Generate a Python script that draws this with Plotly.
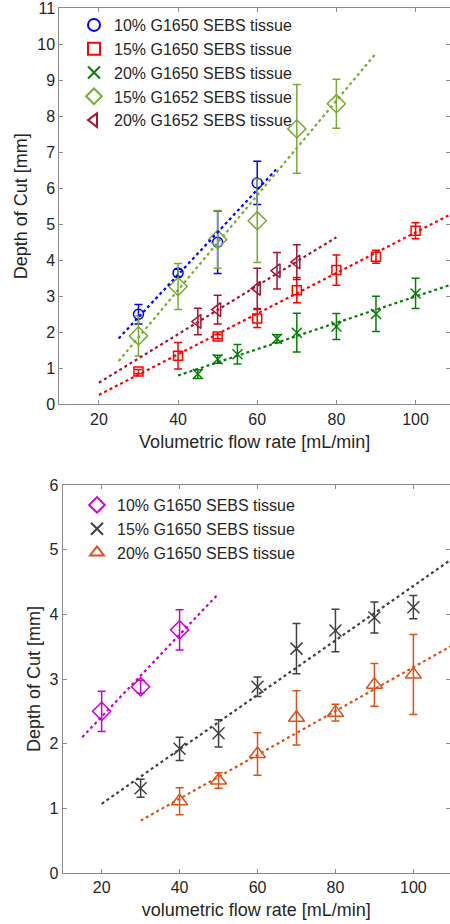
import plotly.graph_objects as go

# ---------------- top panel data ----------------
x_a1 = [30, 40, 50, 60]
y_a1 = [2.50, 3.65, 4.50, 6.15]
e_a1 = [0.27, 0.10, 0.87, 0.60]

x_a2 = [30, 40, 50, 60, 70, 80, 90, 100]
y_a2 = [0.91, 1.35, 1.88, 2.38, 3.17, 3.73, 4.10, 4.82]
e_a2 = [0.06, 0.37, 0.06, 0.25, 0.35, 0.42, 0.18, 0.22]

x_a3 = [45, 50, 55, 65, 70, 80, 90, 100]
y_a3 = [0.84, 1.25, 1.39, 1.82, 1.99, 2.16, 2.51, 3.08]
e_a3 = [0.12, 0.11, 0.27, 0.11, 0.54, 0.36, 0.49, 0.42]

x_a4 = [30, 40, 50, 60, 70, 80]
y_a4 = [1.90, 3.27, 4.58, 5.10, 7.65, 8.35]
e_a4 = [0.56, 0.64, 0.80, 1.16, 1.23, 0.68]

x_a5 = [45, 50, 60, 65, 70]
y_a5 = [2.30, 2.63, 3.22, 3.71, 3.95]
e_a5 = [0.37, 0.40, 0.56, 0.51, 0.48]

# fitted trend lines (end points)
fit_a1_x = [25, 65];  fit_a1_y = [1.83, 6.55]
fit_a2_x = [20, 110]; fit_a2_y = [0.26, 5.34]
fit_a3_x = [40, 110]; fit_a3_y = [0.80, 3.36]
fit_a4_x = [25, 90];  fit_a4_y = [1.20, 9.75]
fit_a5_x = [20, 80];  fit_a5_y = [0.60, 4.64]

names_a = ["10% G1650 SEBS tissue", "15% G1650 SEBS tissue", "20% G1650 SEBS tissue",
           "15% G1652 SEBS tissue", "20% G1652 SEBS tissue"]

# ---------------- bottom panel data ----------------
x_b1 = [20, 30, 40]
y_b1 = [2.50, 2.88, 3.76]
e_b1 = [0.31, 0.10, 0.31]

x_b2 = [30, 40, 50, 60, 70, 80, 90, 100]
y_b2 = [1.31, 1.92, 2.16, 2.88, 3.47, 3.75, 3.95, 4.11]
e_b2 = [0.14, 0.18, 0.21, 0.15, 0.39, 0.33, 0.24, 0.18]

x_b3 = [40, 50, 60, 70, 80, 90, 100]
y_b3 = [1.11, 1.43, 1.84, 2.40, 2.48, 2.91, 3.07]
e_b3 = [0.21, 0.12, 0.33, 0.42, 0.13, 0.33, 0.62]

fit_b1_x = [15, 50];  fit_b1_y = [2.10, 4.32]
fit_b2_x = [20, 110]; fit_b2_y = [1.07, 4.86]
fit_b3_x = [30, 110]; fit_b3_y = [0.81, 3.52]

names_b = ["10% G1650 SEBS tissue", "15% G1650 SEBS tissue", "20% G1650 SEBS tissue"]

x_ticks = [20, 40, 60, 80, 100]

FONT = "Liberation Sans, Arial, Helvetica, sans-serif"
TXT = "#262626"
AX = "#8a8a8a"

fig = go.Figure()


def add_series(x, y, e, name, color, symbol, size, xa, ya, legend):
    fig.add_trace(go.Scatter(
        x=x, y=y, mode="markers", name=name, xaxis=xa, yaxis=ya, legend=legend,
        marker=dict(symbol=symbol, size=size, color=color,
                    line=dict(color=color, width=1.5)),
        error_y=dict(type="data", array=e, visible=True, color=color,
                     thickness=1.5, width=4),
        hoverinfo="skip"))


def add_fit(x, y, color, xa, ya):
    fig.add_trace(go.Scatter(
        x=x, y=y, mode="lines", showlegend=False, xaxis=xa, yaxis=ya,
        line=dict(color=color, width=2.2, dash="dot"), hoverinfo="skip"))


c_a = ["#0000FF", "#FF0000", "#008000", "#77AC30", "#A2142F"]
add_series(x_a1, y_a1, e_a1, names_a[0], c_a[0], "circle-open", 10, "x", "y", "legend")
add_series(x_a2, y_a2, e_a2, names_a[1], c_a[1], "square-open", 9, "x", "y", "legend")
add_series(x_a3, y_a3, e_a3, names_a[2], c_a[2], "x-thin-open", 10, "x", "y", "legend")
add_series(x_a4, y_a4, e_a4, names_a[3], c_a[3], "diamond-open", 14, "x", "y", "legend")
add_series(x_a5, y_a5, e_a5, names_a[4], c_a[4], "triangle-left-open", 12, "x", "y", "legend")
add_fit(fit_a1_x, fit_a1_y, c_a[0], "x", "y")
add_fit(fit_a2_x, fit_a2_y, c_a[1], "x", "y")
add_fit(fit_a3_x, fit_a3_y, c_a[2], "x", "y")
add_fit(fit_a4_x, fit_a4_y, c_a[3], "x", "y")
add_fit(fit_a5_x, fit_a5_y, c_a[4], "x", "y")

c_b = ["#CC00CC", "#404040", "#D95319"]
add_series(x_b1, y_b1, e_b1, names_b[0], c_b[0], "diamond-open", 14, "x2", "y2", "legend2")
add_series(x_b2, y_b2, e_b2, names_b[1], c_b[1], "x-thin-open", 12, "x2", "y2", "legend2")
add_series(x_b3, y_b3, e_b3, names_b[2], c_b[2], "triangle-up-open", 14, "x2", "y2", "legend2")
add_fit(fit_b1_x, fit_b1_y, c_b[0], "x2", "y2")
add_fit(fit_b2_x, fit_b2_y, c_b[1], "x2", "y2")
add_fit(fit_b3_x, fit_b3_y, c_b[2], "x2", "y2")

W, H = 450, 924


def xax(domain, rng, title, anchor):
    return dict(domain=domain, range=rng, anchor=anchor, tickvals=x_ticks,
                ticks="inside", ticklen=4, tickcolor=AX, showline=True, linecolor=AX,
                linewidth=1, mirror="ticks", showgrid=False, zeroline=False,
                automargin=False, ticklabeloverflow="allow",
                tickfont=dict(family=FONT, size=16, color=TXT),
                title=dict(text=title, font=dict(family=FONT, size=18, color=TXT), standoff=8))


def yax(domain, rng, tv, anchor):
    return dict(domain=domain, range=rng, anchor=anchor, tickvals=tv,
                ticks="inside", ticklen=4, tickcolor=AX, showline=True, linecolor=AX,
                linewidth=1, mirror="ticks", showgrid=False, zeroline=False,
                automargin=False, ticklabeloverflow="allow",
                tickfont=dict(family=FONT, size=16, color=TXT),
                title=dict(text="Depth of Cut [mm]", font=dict(family=FONT, size=18, color=TXT),
                           standoff=4))


fig.update_layout(
    width=W, height=H, margin=dict(l=0, r=0, t=0, b=0, autoexpand=False),
    paper_bgcolor="white", plot_bgcolor="white", showlegend=True,
    xaxis=xax([59.3 / W, 1], [10, 108.7], "Volumetric flow rate [mL/min]", "y"),
    yaxis=yax([1 - 404.3 / H, 1 - 8.3 / H], [0, 11], list(range(0, 12)), "x"),
    xaxis2=xax([62.7 / W, 1], [10, 109.4], "volumetric flow rate [mL/min]", "y2"),
    yaxis2=yax([1 - 873 / H, 1 - 485 / H], [0, 6], list(range(0, 7)), "x2"),
    legend=dict(x=74 / W, y=1 - 8 / H, xanchor="left", yanchor="top", itemsizing="constant",
                bgcolor="rgba(0,0,0,0)", font=dict(family=FONT, size=16, color=TXT)),
    legend2=dict(x=77 / W, y=1 - 488 / H, xanchor="left", yanchor="top", itemsizing="constant",
                 bgcolor="rgba(0,0,0,0)", font=dict(family=FONT, size=16, color=TXT)),
)

fig.write_html("out.html", config={"displayModeBar": False})
